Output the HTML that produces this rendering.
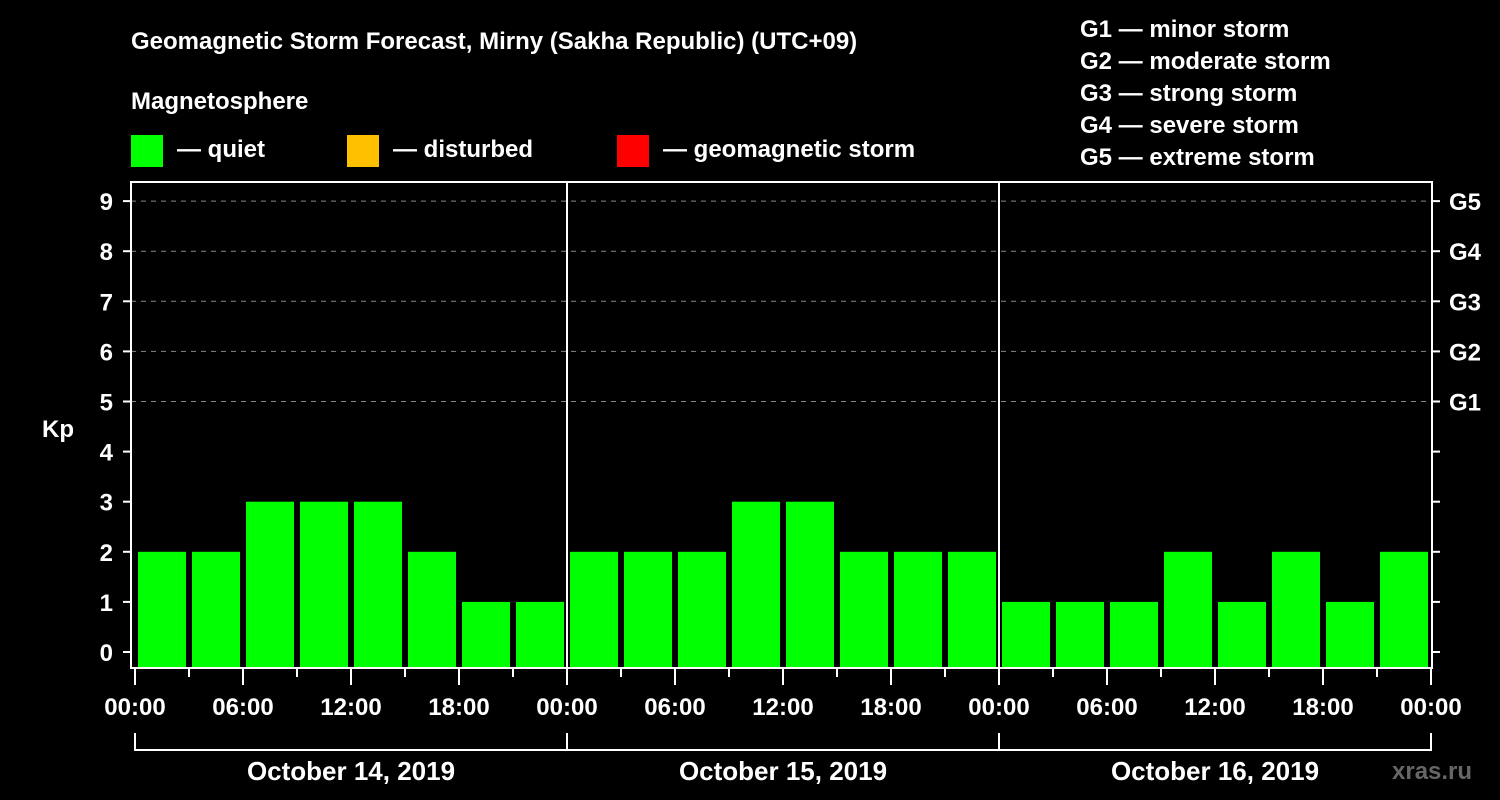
<!DOCTYPE html>
<html><head><meta charset="utf-8"><style>
body{margin:0;background:#000;}
svg{display:block;font-family:"Liberation Sans",Arial,sans-serif;font-weight:bold;}
</style></head><body>
<svg id="c" width="1500" height="800" xmlns="http://www.w3.org/2000/svg">
<rect width="1500" height="800" fill="#000"/>
<text x="131" y="49" fill="#fff" font-size="24">Geomagnetic Storm Forecast, Mirny (Sakha Republic) (UTC+09)</text>
<text x="131" y="109" fill="#fff" font-size="24">Magnetosphere</text>
<rect x="131" y="135" width="32" height="32" fill="#00ff00"/>
<text x="177" y="157" fill="#fff" font-size="24">— quiet</text>
<rect x="347" y="135" width="32" height="32" fill="#ffc000"/>
<text x="393" y="157" fill="#fff" font-size="24">— disturbed</text>
<rect x="617" y="135" width="32" height="32" fill="#ff0000"/>
<text x="663" y="157" fill="#fff" font-size="24">— geomagnetic storm</text>
<g fill="#fff" font-size="24">
<text x="1080" y="37">G1 — minor storm</text>
<text x="1080" y="69">G2 — moderate storm</text>
<text x="1080" y="101">G3 — strong storm</text>
<text x="1080" y="133">G4 — severe storm</text>
<text x="1080" y="165">G5 — extreme storm</text>
</g>
<text x="42" y="437" fill="#fff" font-size="24">Kp</text>
<text x="1392" y="779" fill="#666" font-size="24">xras.ru</text>
<g id="plot"></g>
</svg>
<script>
const kpValues=[2,2,3,3,3,2,1,1, 2,2,2,3,3,2,2,2, 1,1,1,2,1,2,1,2];
const dayLabels=["October 14, 2019","October 15, 2019","October 16, 2019"];
const hourLabels=["00:00","06:00","12:00","18:00"];
const yTicks=[0,1,2,3,4,5,6,7,8,9];
const gLabels=["G1","G2","G3","G4","G5"];
const NS="http://www.w3.org/2000/svg";
const g=document.getElementById('plot');
const X0=135,SLOT=54,PT=182,PB=668,PL=131,PR=1432;
const y=v=>652-v*50.1;
const x=i=>X0+i*SLOT;
function mk(t,a,txt){const e=document.createElementNS(NS,t);for(const k in a)e.setAttribute(k,a[k]);if(txt!==undefined)e.textContent=txt;g.appendChild(e);return e;}
const colorFor=v=>v>=5?"#ff0000":(v>=4?"#ffc000":"#00ff00");
// grid
yTicks.forEach(v=>{
 if(v>=5){const l=mk('line',{x1:PL,x2:PR,y1:y(v),y2:y(v),stroke:'#888','stroke-width':1,'stroke-dasharray':'5,5'});
 
 }
});
// bars
kpValues.forEach((v,i)=>{
 const r=mk('rect',{x:x(i)+3,y:y(v),width:SLOT-6,height:PB-y(v),fill:colorFor(v)});
 
 
});
// frame
const f=mk('rect',{x:PL,y:PT,width:PR-PL,height:PB-PT,fill:'none',stroke:'#fff','stroke-width':2});


const nDays=dayLabels.length;
for(let d=1;d<nDays;d++){
 const l=mk('line',{x1:x(d*8),x2:x(d*8),y1:PT,y2:PB,stroke:'#fff','stroke-width':2});
 
 
}
// y ticks
yTicks.forEach(v=>{
 mk('line',{x1:PL-8,x2:PL,y1:y(v),y2:y(v),stroke:'#fff','stroke-width':2});
 mk('line',{x1:PR,x2:PR+8,y1:y(v),y2:y(v),stroke:'#fff','stroke-width':2});
 const t=mk('text',{x:113,y:y(v)+9,fill:'#fff','font-size':24,'text-anchor':'end'},String(v));
 
 
});
gLabels.forEach((s,i)=>{
 const t=mk('text',{x:1449,y:y(5+i)+9,fill:'#fff','font-size':24},s);
 
 
});
// x ticks
for(let i=0;i<=nDays*8;i++){
 const major=i%2===0;
 mk('line',{x1:x(i),x2:x(i),y1:PB,y2:PB+(major?17:9),stroke:'#fff','stroke-width':2});
 if(major){
  const lab=(i===nDays*8)?hourLabels[0]:hourLabels[(i/2)%4];
  const t=mk('text',{x:x(i),y:715,fill:'#fff','font-size':24,'text-anchor':'middle'},lab);
  
  
 }
}
// day brackets
mk('line',{x1:x(0),x2:x(nDays*8),y1:750,y2:750,stroke:'#fff','stroke-width':2});
for(let d=0;d<=nDays;d++) mk('line',{x1:x(d*8),x2:x(d*8),y1:733,y2:751,stroke:'#fff','stroke-width':2});
dayLabels.forEach((s,d)=>{
 const t=mk('text',{x:x(d*8+4),y:780,fill:'#fff','font-size':26,'text-anchor':'middle'},s);
 
 
});
</script>
</body></html>
